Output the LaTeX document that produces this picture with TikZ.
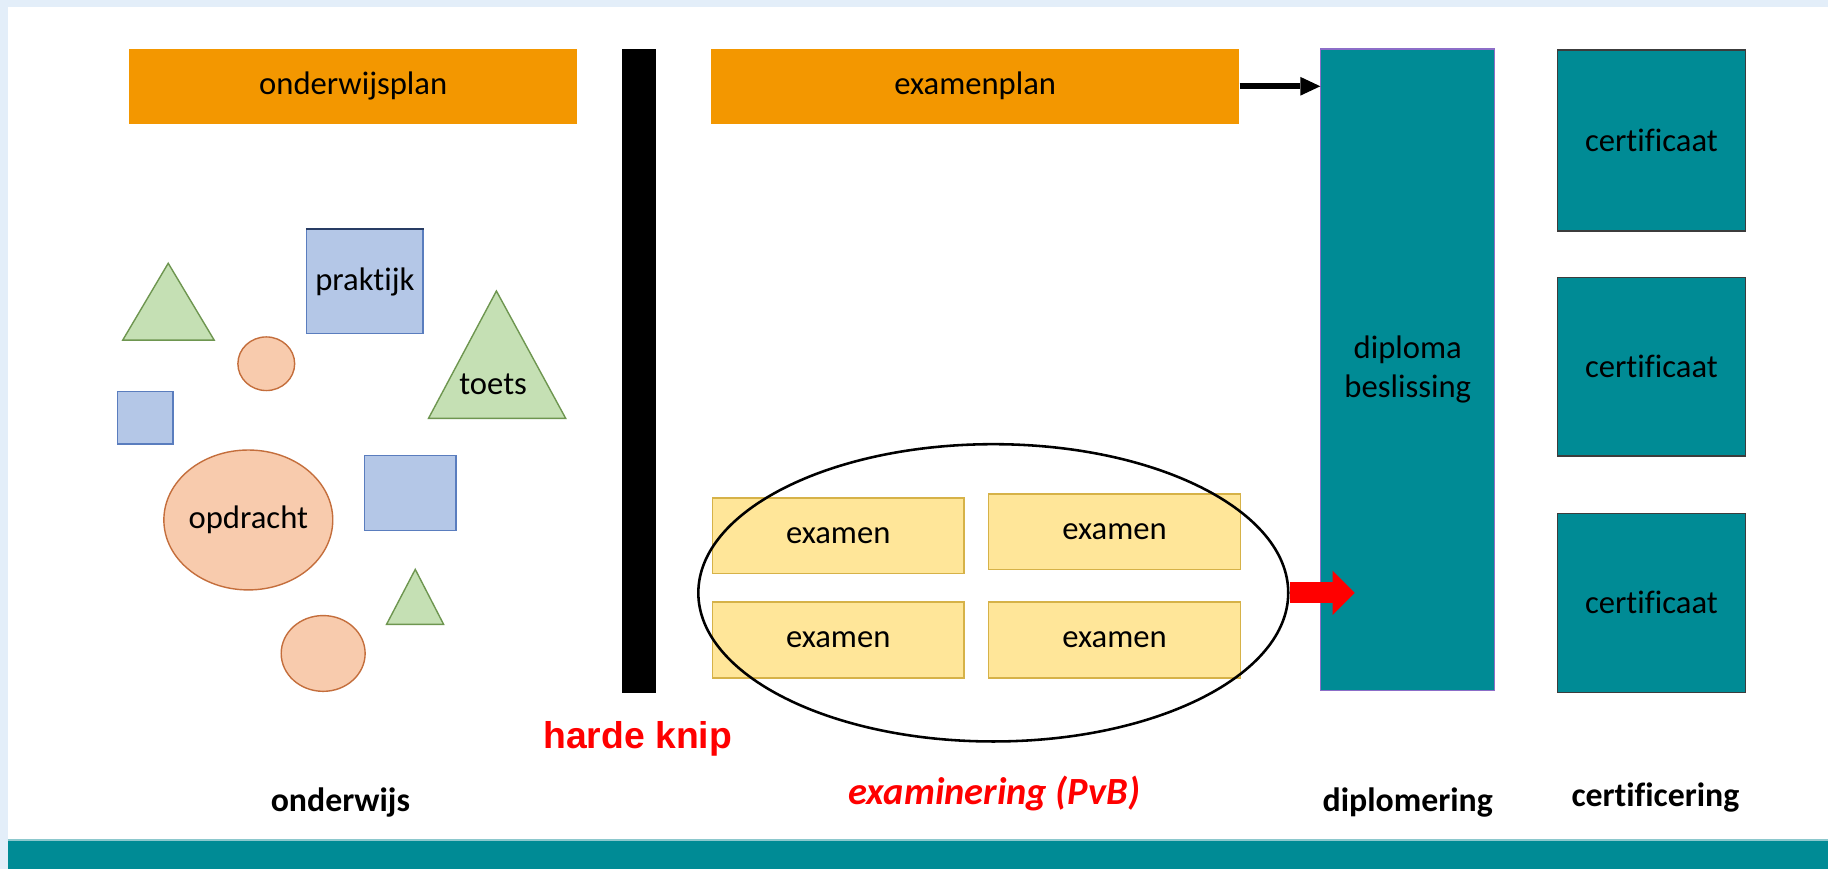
\documentclass[tikz,border=0pt]{standalone}
\usepackage{fontspec}
\setmainfont{Carlito}[Ligatures=NoCommon]
\newfontfamily\arialfam{Liberation Sans}
\usetikzlibrary{shapes.geometric,arrows.meta}
\definecolor{rand}{RGB}{227,238,249}
\definecolor{petrol}{RGB}{0,139,149}
\definecolor{petrollicht}{RGB}{140,200,205}
\definecolor{oranje}{RGB}{243,151,0}
\definecolor{examgeel}{RGB}{255,230,153}
\definecolor{examrand}{RGB}{214,178,72}
\definecolor{blauw}{RGB}{180,199,231}
\definecolor{blauwrand}{RGB}{90,125,190}
\definecolor{donkerblauw}{RGB}{40,60,100}
\definecolor{perzik}{RGB}{248,203,173}
\definecolor{perzikrand}{RGB}{196,110,60}
\definecolor{groen}{RGB}{197,224,180}
\definecolor{groenrand}{RGB}{110,150,80}
\definecolor{paars}{RGB}{140,110,200}
\definecolor{grijsrand}{RGB}{60,60,60}
\newcommand{\gewoon}{\fontsize{28}{33}\selectfont}
\newcommand{\vet}{\fontsize{29}{35}\selectfont\bfseries}
\newcommand{\knipletter}{\arialfam\fontsize{32}{38}\selectfont\bfseries}
\begin{document}
\begin{tikzpicture}[x=1pt,y=-1pt,
  plan/.style={fill=oranje,inner sep=0pt,minimum height=64pt,font=\gewoon},
  petrolbox/.style={fill=petrol,inner sep=0pt,font=\gewoon,align=center},
  examen/.style={fill=examgeel,draw=examrand,line width=1.2pt,inner sep=0pt,minimum width=216pt,minimum height=65pt,font=\gewoon},
  blok/.style={fill=blauw,draw=blauwrand,line width=1.2pt,inner sep=0pt,font=\gewoon},
  bol/.style={ellipse,fill=perzik,draw=perzikrand,line width=1.2pt,inner sep=0pt,font=\gewoon},
  drie/.style={fill=groen,draw=groenrand,line width=1.2pt},
  kop/.style={font=\vet,anchor=base}]
\useasboundingbox (0,0) rectangle (1568,745);
% achtergrond
\fill[rand] (0,0) rectangle (1568,745);
\fill[white] (6.5,6) rectangle (1568,720.5);
\fill[petrol] (6.5,720.5) rectangle (1568,745);
\draw[petrollicht,line width=1pt] (6.5,720.5) -- (1568,720.5);
% onderwijs
\node[plan,minimum width=384pt] (oplan) at (303,74) {onderwijsplan};
\draw[drie] (144.3,225.8) -- (183.7,291.7) -- (105.3,291.7) -- cycle;
\node[bol,minimum width=48.7pt,minimum height=46pt] (bol1) at (228.4,312) {};
\node[blok,minimum width=100pt,minimum height=89pt] (praktijk) at (313,241.5) {praktijk};
\draw[donkerblauw,line width=1.5pt] (praktijk.north west) -- (praktijk.north east);
\draw[drie] (425.8,249.6) -- (485.2,358.8) -- (367.6,358.8) -- cycle;
\node[font=\gewoon] (toets) at (423,330) {toets};
\node[blok,minimum width=47.5pt,minimum height=45pt] (blok1) at (124.7,358.5) {};
\node[bol,minimum width=127pt,minimum height=120pt] (opdracht) at (213,446) {opdracht};
\node[blok,minimum width=78.5pt,minimum height=64.5pt] (blok2) at (352,423) {};
\draw[drie] (356.2,488.4) -- (380.5,535.5) -- (331.6,535.5) -- cycle;
\node[bol,minimum width=72pt,minimum height=65pt] (bol2) at (277.2,560.5) {};
% harde knip
\fill (533.6,42) rectangle (563,594);
\node[font=\knipletter,text=red,anchor=base] (knip) at (547,642) {harde knip};
% examinering
\node[plan,minimum width=453pt] (eplan) at (836.5,74) {examenplan};
\node[examen] (ex1) at (719,459.5) {examen};
\node[examen,minimum height=64.5pt] (ex2) at (956,456) {examen};
\node[examen] (ex3) at (719,549) {examen};
\node[examen] (ex4) at (956,549) {examen};
\node[ellipse,draw,line width=2.2pt,inner sep=0pt,minimum width=506pt,minimum height=255pt] (ring) at (852,508.5) {};
% diplomering
\node[petrolbox,draw=paars,line width=1pt,minimum width=149pt,minimum height=550pt] (diploma) at (1207.5,317) {diploma\\beslissing};
\coordinate (rodepunt) at (1162,508.5);
\draw[line width=5pt,-{Triangle[length=17pt,width=16pt,line width=0pt]}] (eplan.east) -- (diploma.west |- eplan.east);
\draw[red,line width=18pt,-{Triangle[length=19pt,width=38pt,line width=0pt]}] (ring.east) -- (rodepunt);
% certificering
\foreach \y/\h [count=\i] in {120.5/155,314.5/153,517/153.5}
  \node[petrolbox,draw=grijsrand,line width=1.2pt,minimum width=161pt,minimum height=\h pt] (cert\i) at (1416.5,\y) {certificaat};
% onderschriften
\node[kop] (londerwijs) at (292,696) {onderwijs};
\node[kop,font=\fontsize{33}{38}\selectfont\bfseries\itshape,text=red] (lexam) at (853,690) {examinering (PvB)};
\node[kop] (ldiploma) at (1207.5,696) {diplomering};
\node[kop] (lcert) at (1420,692) {certificering};
\end{tikzpicture}
\end{document}
